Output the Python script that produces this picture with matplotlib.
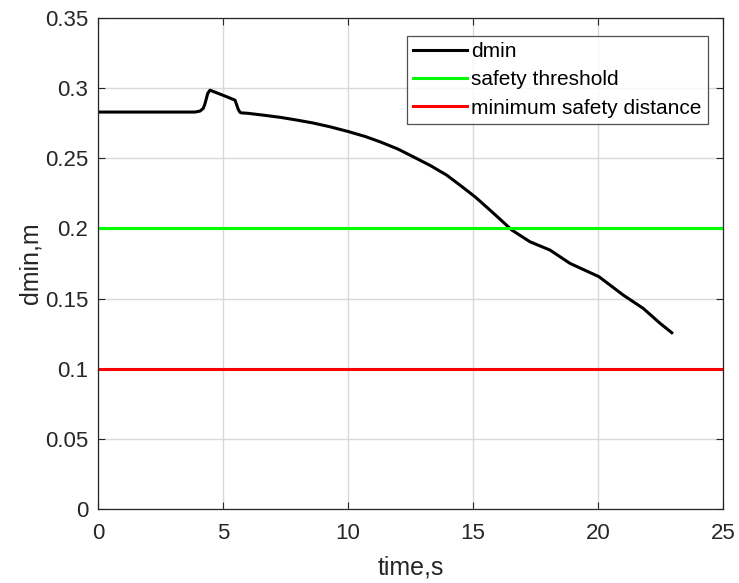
import matplotlib.pyplot as plt
import numpy as np

plt.rcParams['font.family'] = ['Liberation Sans', 'DejaVu Sans']

# dmin over time
t = [0, 1, 2, 3, 3.88, 4.08, 4.21, 4.28, 4.39, 4.48, 4.81, 5.15, 5.48,
     5.55, 5.61, 5.68, 5.75, 6.0, 6.61, 7.3, 7.95, 8.6, 9.28, 10.05,
     10.7, 11.28, 12.0, 12.61, 13.3, 13.95, 14.5, 15.08, 15.68, 16.1,
     16.55, 17.28, 18.08, 18.88, 20.04, 21.01, 21.81, 22.48, 22.95]
dmin = [0.283, 0.283, 0.283, 0.283, 0.283, 0.2837, 0.2856, 0.289, 0.2963,
        0.2986, 0.2963, 0.2939, 0.2915, 0.288, 0.2849, 0.2828, 0.2824,
        0.2821, 0.2808, 0.2792, 0.2773, 0.2752, 0.2725, 0.2689, 0.2655,
        0.2618, 0.2566, 0.2511, 0.2448, 0.238, 0.2306, 0.2226, 0.2131,
        0.2063, 0.1989, 0.1905, 0.1846, 0.1751, 0.1656, 0.1525, 0.143,
        0.1324, 0.1257]

safety_threshold = 0.2
min_safety_distance = 0.1
t_range = [0, 25]

fig = plt.figure(figsize=(7.39, 5.83), dpi=100)
ax = fig.add_axes([0.1326, 0.1269, 0.8458, 0.8421])

ax.plot(t, dmin, color='black', linewidth=2.2, label='dmin')
ax.plot(t_range, [safety_threshold] * 2, color='#00ff00', linewidth=2.2,
        label='safety threshold')
ax.plot(t_range, [min_safety_distance] * 2, color='#ff0000', linewidth=2.2,
        label='minimum safety distance')

ax.set_xlim(0, 25)
ax.set_ylim(0, 0.35)
ax.set_xticks(np.arange(0, 26, 5))
ax.set_yticks(np.arange(0, 0.351, 0.05))
ax.set_yticklabels(['0', '0.05', '0.1', '0.15', '0.2', '0.25', '0.3', '0.35'])
ax.grid(True, color='#d9d9d9', linewidth=1)
ax.set_axisbelow(True)
ax.tick_params(direction='in', top=True, right=True, labelsize=16,
               colors='#262626', length=5)
ax.tick_params(axis='x', pad=10)
ax.tick_params(axis='y', pad=7)
for s in ax.spines.values():
    s.set_color('#262626')
    s.set_linewidth(0.9)

ax.set_xlabel('time,s', fontsize=18, color='#262626', labelpad=8)
ax.set_ylabel('dmin,m', fontsize=18, color='#262626', labelpad=2)

leg = ax.legend(loc='upper right', bbox_to_anchor=(0.976, 0.964), fontsize=15,
                frameon=True, fancybox=False, edgecolor='#262626',
                handlelength=2.6, borderpad=0.3, labelspacing=0.45,
                handletextpad=0.2, borderaxespad=0)
leg.get_frame().set_linewidth(0.9)

fig.savefig('out.png', dpi=100)
